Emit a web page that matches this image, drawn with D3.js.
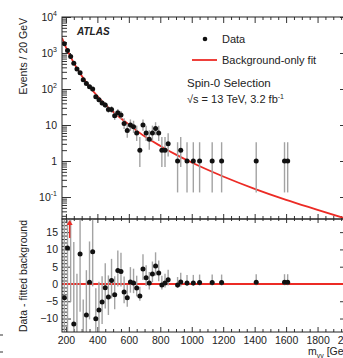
<!DOCTYPE html>
<html>
<head>
<meta charset="utf-8">
<script src="https://cdn.jsdelivr.net/npm/d3@7"></script>
<style>
body { margin: 0; background: #fff; }
svg text { font-family: "Liberation Sans", Arial, Helvetica, sans-serif; fill: #222; }
</style>
</head>
<body>
<svg id="chart" width="343" height="358"></svg>
<script>
// bin centres (GeV) of the non-empty 20 GeV bins
var mass = [190,210,230,250,270,290,310,330,350,370,390,410,430,450,470,490,510,530,550,570,
            590,610,630,650,670,690,710,730,750,770,790,810,830,850,910,930,970,1010,1050,1130,
            1190,1410,1590,1610];
// events per bin
var counts = [1816,1170,795,518,358,281,182,143,116,100,61,50,41,36,27,27,18,22,19,11,
              7,10,9,6,2,10,6,4,6,8,6,2,2,3,1,2,1,1,1,1,
              1,1,1,1];
// data - fitted background
var resid = [-4,10.4,23,-11.6,-17,8.7,-19,-9,0.5,9.3,-10.1,-7.5,-5.2,-1.1,-3.8,1,-3.1,3.9,3.6,-2.3,
             -4,0.6,0.3,-1.2,-3.5,4.3,1.8,0.3,2.9,5.2,3.2,-0.3,0.3,1.2,-0.3,0.6,0.3,0.3,0.4,0.4,
             0.4,0.5,0.5,0.5];

// background-only fit
var fitMass = [175,200,250,300,350,400,450,500,600,700,800,900,1000,1200,1400,1600,1800,2000];
var fitVal  = [2630,1445,530,233,116,64,37.6,23.4,10.3,4.84,2.62,1.50,0.906,0.371,0.168,0.083,0.044,0.0235];

var xTicks = [200,400,600,800,1000,1200,1400,1600,1800,2000];
var upperTicks = [0.1,1,10,100,1000,10000];
var upperLabels = [["10","-1"],["1",""],["10",""],["10","2"],["10","3"],["10","4"]];
var lowerTicks = [-10,-5,0,5,10,15];

var L = 62, R = 349, T = 17, MID = 219, B = 332;

var svg = d3.select("#chart");

var x = d3.scaleLinear().domain([175, 2000]).range([L, R]);
var yTop = d3.scaleLog().domain([0.0245, 1e4]).range([MID, T]);
var yBot = d3.scaleLinear().domain([-13.9, 18.8]).range([B, MID]);

// poisson-ish error interval
function errUp(n) { return n + Math.sqrt(n + 0.75) + 1; }
function errLo(n) { return n - Math.sqrt(n - 0.25); }

var defs = svg.append("defs");
defs.append("clipPath").attr("id", "clipTop").append("rect")
    .attr("x", L).attr("y", T).attr("width", R - L).attr("height", MID - T);
defs.append("clipPath").attr("id", "clipBot").append("rect")
    .attr("x", L).attr("y", MID).attr("width", R - L).attr("height", B - MID);

// minor tick values
var xMinor = d3.range(200, 2001, 50).filter(function(v) { return v % 200 != 0; });
var logMinor = [];
for (var e = -2; e < 4; e++) {
  for (var k = 2; k < 10; k++) {
    var v = k * Math.pow(10, e);
    if (v > 0.0245 && v < 1e4) logMinor.push(v);
  }
}
var linMinor = d3.range(-13, 19, 1).filter(function(v) { return v % 5 != 0; });

function tickAxis(axis, g, values, size, labels) {
  axis.tickValues(values).tickSize(-size).tickPadding(4);
  if (!labels) axis.tickFormat("");
  else axis.tickFormat(d3.format("d"));
  g.call(axis);
  g.select(".domain").remove();
  g.selectAll("line").attr("stroke", "#333");
  return g;
}

// ---- upper panel ----
var gTop = svg.append("g");

tickAxis(d3.axisTop(x), gTop.append("g").attr("transform", "translate(0," + T + ")"), xTicks, 6);
tickAxis(d3.axisTop(x), gTop.append("g").attr("transform", "translate(0," + T + ")"), xMinor, 3);
tickAxis(d3.axisBottom(x), gTop.append("g").attr("transform", "translate(0," + MID + ")"), xTicks, 5);
tickAxis(d3.axisBottom(x), gTop.append("g").attr("transform", "translate(0," + MID + ")"), xMinor, 3);

tickAxis(d3.axisLeft(yTop), gTop.append("g").attr("transform", "translate(" + L + ",0)"), upperTicks, 9);
tickAxis(d3.axisLeft(yTop), gTop.append("g").attr("transform", "translate(" + L + ",0)"), logMinor, 5);
tickAxis(d3.axisRight(yTop), gTop.append("g").attr("transform", "translate(" + R + ",0)"), upperTicks, 9);
tickAxis(d3.axisRight(yTop), gTop.append("g").attr("transform", "translate(" + R + ",0)"), logMinor, 5);

gTop.selectAll(".ylab").data(upperTicks).enter().append("text")
    .attr("class", "ylab")
    .attr("x", 57)
    .attr("y", function(d) { return yTop(d) + 4; })
    .attr("text-anchor", "end")
    .attr("font-size", 10.5)
    .each(function(d, i) {
      var t = d3.select(this);
      t.append("tspan").text(upperLabels[i][0]);
      if (upperLabels[i][1]) {
        t.append("tspan").attr("dy", -5).attr("font-size", 7).text(upperLabels[i][1]);
      }
    });

var plotTop = gTop.append("g").attr("clip-path", "url(#clipTop)");

plotTop.append("path")
    .datum(fitMass.map(function(m, i) { return [m, fitVal[i]]; }))
    .attr("fill", "none")
    .attr("stroke", "#ec2b25")
    .attr("stroke-width", 1.8)
    .attr("d", d3.line()
        .x(function(d) { return x(d[0]); })
        .y(function(d) { return yTop(d[1]); })
        .curve(d3.curveMonotoneX));

plotTop.selectAll(".ebar").data(mass).enter().append("line")
    .attr("class", "ebar")
    .attr("x1", function(d) { return x(d); })
    .attr("x2", function(d) { return x(d); })
    .attr("y1", function(d, i) { return yTop(Math.max(errLo(counts[i]), 0.001)); })
    .attr("y2", function(d, i) { return yTop(errUp(counts[i])); })
    .attr("stroke", "#a3a3a3")
    .attr("stroke-width", 1.4);

plotTop.selectAll(".dot").data(mass).enter().append("circle")
    .attr("class", "dot")
    .attr("cx", function(d) { return x(d); })
    .attr("cy", function(d, i) { return yTop(counts[i]); })
    .attr("r", 2.5)
    .attr("fill", "#111");

gTop.append("rect")
    .attr("x", L).attr("y", T).attr("width", R - L).attr("height", MID - T)
    .attr("fill", "none").attr("stroke", "#222").attr("stroke-width", 1);

// labels and legend
gTop.append("text").attr("x", 77).attr("y", 35)
    .attr("font-size", 10).attr("font-weight", "bold").attr("font-style", "italic")
    .text("ATLAS");

gTop.append("circle").attr("cx", 205).attr("cy", 39).attr("r", 2.3).attr("fill", "#111");
gTop.append("text").attr("x", 222).attr("y", 43).attr("font-size", 11).text("Data");
gTop.append("line").attr("x1", 192).attr("x2", 217).attr("y1", 60).attr("y2", 60)
    .attr("stroke", "#ec2b25").attr("stroke-width", 1.8);
gTop.append("text").attr("x", 222).attr("y", 64).attr("font-size", 11).text("Background-only fit");
gTop.append("text").attr("x", 187).attr("y", 87).attr("font-size", 11.5).text("Spin-0 Selection");
var sq = gTop.append("text").attr("x", 187).attr("y", 103).attr("font-size", 11);
sq.append("tspan").text("√s = 13 TeV, 3.2 fb");
sq.append("tspan").attr("dy", -4).attr("font-size", 7).text("-1");

svg.append("text")
    .attr("transform", "translate(27,18) rotate(-90)")
    .attr("text-anchor", "end")
    .attr("font-size", 10.5)
    .text("Events / 20 GeV");

// ---- lower panel ----
var gBot = svg.append("g");

tickAxis(d3.axisBottom(x), gBot.append("g").attr("transform", "translate(0," + MID + ")"), xTicks, -4);
tickAxis(d3.axisBottom(x), gBot.append("g").attr("transform", "translate(0," + MID + ")"), xMinor, -2);
tickAxis(d3.axisBottom(x), gBot.append("g").attr("transform", "translate(0," + B + ")"), xTicks, 5, true)
    .selectAll("text").attr("font-size", 10.5).attr("fill", "#222").attr("y", 6).attr("dy", "0.55em");
tickAxis(d3.axisBottom(x), gBot.append("g").attr("transform", "translate(0," + B + ")"), xMinor, 3);

tickAxis(d3.axisLeft(yBot), gBot.append("g").attr("transform", "translate(" + L + ",0)"), lowerTicks, 9, true)
    .selectAll("text").attr("font-size", 10.5).attr("fill", "#222")
    .text(function(d) { return d < 0 ? "\u2212" + Math.abs(d) : d; });
tickAxis(d3.axisLeft(yBot), gBot.append("g").attr("transform", "translate(" + L + ",0)"), linMinor, 5);
tickAxis(d3.axisRight(yBot), gBot.append("g").attr("transform", "translate(" + R + ",0)"), lowerTicks, 9);
tickAxis(d3.axisRight(yBot), gBot.append("g").attr("transform", "translate(" + R + ",0)"), linMinor, 5);

var plotBot = gBot.append("g").attr("clip-path", "url(#clipBot)");

plotBot.append("line")
    .attr("x1", L).attr("x2", R).attr("y1", yBot(0)).attr("y2", yBot(0))
    .attr("stroke", "#ec2b25").attr("stroke-width", 2);

plotBot.selectAll(".rbar").data(mass).enter().append("line")
    .attr("class", "rbar")
    .attr("x1", function(d) { return x(d); })
    .attr("x2", function(d) { return x(d); })
    .attr("y1", function(d, i) { return yBot(resid[i] - (counts[i] - errLo(counts[i]))); })
    .attr("y2", function(d, i) { return yBot(resid[i] + (errUp(counts[i]) - counts[i])); })
    .attr("stroke", "#a3a3a3")
    .attr("stroke-width", 1.4);

plotBot.selectAll(".rdot").data(mass).enter().append("circle")
    .attr("class", "rdot")
    .attr("cx", function(d) { return x(d); })
    .attr("cy", function(d, i) { return yBot(resid[i]); })
    .attr("r", 2.5)
    .attr("fill", "#111");

// arrows for points above the range
var over = mass.filter(function(d, i) { return resid[i] > yBot.domain()[1]; });
gBot.selectAll(".arrow").data(over).enter().append("line")
    .attr("class", "arrow")
    .attr("x1", function(d) { return x(d) - 1; }).attr("x2", function(d) { return x(d) - 1; })
    .attr("y1", MID + 19).attr("y2", MID + 4)
    .attr("stroke", "#ec2b25").attr("stroke-width", 1.4);
gBot.selectAll(".ahead").data(over).enter().append("path")
    .attr("class", "ahead")
    .attr("d", function(d) {
      var cx = x(d) - 1;
      return "M" + (cx - 3) + "," + (MID + 6) + "L" + cx + "," + (MID + 1) + "L" + (cx + 3) + "," + (MID + 6) + "Z";
    })
    .attr("fill", "#ec2b25");

gBot.append("rect")
    .attr("x", L).attr("y", MID).attr("width", R - L).attr("height", B - MID)
    .attr("fill", "none").attr("stroke", "#222").attr("stroke-width", 1);

svg.append("text")
    .attr("transform", "translate(27,220) rotate(-90)")
    .attr("text-anchor", "end")
    .attr("font-size", 10.5)
    .text("Data - fitted background");

var xt = svg.append("text").attr("x", 308).attr("y", 355).attr("font-size", 10.5);
xt.append("tspan").text("m");
xt.append("tspan").attr("dy", 3).attr("font-size", 7).text("γγ");
xt.append("tspan").attr("dy", -3).text(" [GeV]");

// small marks at the left edge
svg.append("line").attr("x1", 0).attr("x2", 3).attr("y1", 335).attr("y2", 335).attr("stroke", "#333");
svg.append("line").attr("x1", 0).attr("x2", 3).attr("y1", 352).attr("y2", 352).attr("stroke", "#333");
</script>
</body>
</html>
